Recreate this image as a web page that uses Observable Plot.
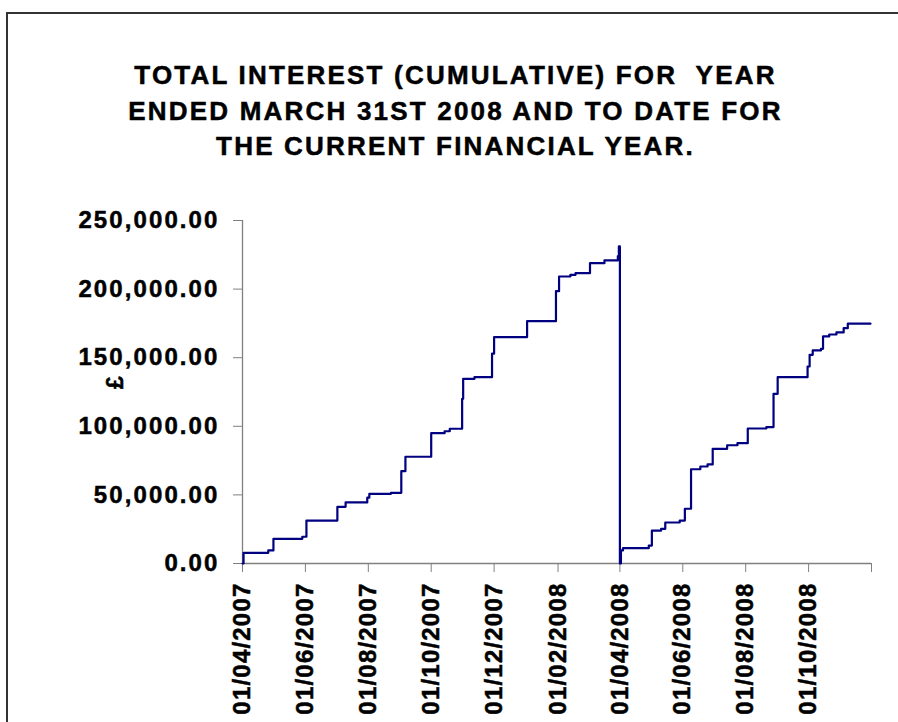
<!DOCTYPE html>
<html><head><meta charset="utf-8">
<script src="https://cdn.jsdelivr.net/npm/d3@7"></script>
<script src="https://cdn.jsdelivr.net/npm/@observablehq/plot@0.6"></script>
<style>
html,body{margin:0;padding:0;background:#fff;overflow:hidden;width:898px;height:722px}
#wrap{position:relative;width:898px;height:722px;overflow:hidden;font-family:"Liberation Sans",Arial,sans-serif}
#ftop{position:absolute;left:6px;top:12px;width:892px;height:2px;background:#333}
#fleft{position:absolute;left:6px;top:12px;width:2px;height:710px;background:#333}
#title{position:absolute;left:0;top:58px;width:911px;text-align:center;font-weight:bold;font-size:26px;line-height:35.5px;letter-spacing:2.2px;color:#000;white-space:pre;-webkit-text-stroke:0.5px #000}
#chart{position:absolute;left:0;top:170px}
#chart svg g[aria-label*="axis"] line, #chart svg g[aria-label*="axis"] path{stroke:#808080}
#chart svg g[aria-label*="axis"] text{stroke:#000;stroke-width:0.5px;paint-order:stroke}
#chart svg g[aria-label*="y-axis"] text{letter-spacing:2.1px}
#chart svg g[aria-label*="x-axis"] text{letter-spacing:1.2px}
</style></head><body>
<div id="wrap"><div id="ftop"></div><div id="fleft"></div><div id="title">TOTAL INTEREST (CUMULATIVE) FOR  YEAR
ENDED MARCH 31ST 2008 AND TO DATE FOR
THE CURRENT FINANCIAL YEAR.</div><div id="chart"></div></div>
<script>
// Year ended 31 March 2008 (cumulative interest, £) at dates where the total changes
const year1Dates = ["2007-04-01","2007-04-02","2007-04-26","2007-05-01","2007-05-29","2007-06-02","2007-07-02","2007-07-10","2007-07-31","2007-08-02","2007-08-23","2007-09-02","2007-09-06","2007-10-01","2007-10-14","2007-10-19","2007-10-31","2007-11-01","2007-11-12","2007-11-29","2007-12-01","2008-01-02","2008-01-30","2008-02-02","2008-02-13","2008-02-18","2008-03-03","2008-03-17","2008-03-30","2008-03-31"];
const year1Values = [0,7800,9500,18000,19500,31300,41300,44500,48000,50800,51500,67300,77800,95000,96400,98200,120000,134600,135800,152900,165000,176600,198500,209200,210400,211600,218900,220900,224000,231100];
// Current financial year to date
const year2Dates = ["2008-04-01","2008-04-02","2008-04-04","2008-04-29","2008-05-02","2008-05-11","2008-05-15","2008-05-29","2008-06-03","2008-06-09","2008-06-18","2008-06-25","2008-06-30","2008-07-14","2008-07-24","2008-08-03","2008-08-21","2008-08-28","2008-09-01","2008-09-30","2008-10-02","2008-10-05","2008-10-13","2008-10-15","2008-10-21","2008-10-28","2008-11-04","2008-11-08","2008-11-30"];
const year2Values = [0,9500,11200,13100,24000,25300,29900,31300,39900,68700,70700,72200,83600,86200,87700,98400,99400,123700,135800,143600,152100,155300,156500,165500,166900,168400,171500,174800,174800];
const xTickDates = ["2007-04-01","2007-06-01","2007-08-01","2007-10-01","2007-12-01","2008-02-01","2008-04-01","2008-06-01","2008-08-01","2008-10-01","2008-12-01"];
const xTickLabels = ["01/04/2007","01/06/2007","01/08/2007","01/10/2007","01/12/2007","01/02/2008","01/04/2008","01/06/2008","01/08/2008","01/10/2008",""];
const yTicks = [0,50000,100000,150000,200000,250000];

const parse = d3.utcParse("%Y-%m-%d");
const rows = [
  ...year1Dates.map((d,i)=>({date:parse(d), value:year1Values[i]})),
  ...year2Dates.map((d,i)=>({date:parse(d), value:year2Values[i]}))
];
const tickTimes = xTickDates.map(parse);
const labelOf = new Map(tickTimes.map((t,i)=>[+t, xTickLabels[i]]));

const chart = Plot.plot({
  width: 898, height: 552,
  marginLeft: 242, marginRight: 27, marginTop: 50, marginBottom: 159,
  style: {background:"transparent", fontFamily:"'Liberation Sans', Arial, sans-serif", fontWeight:"bold", fontSize:"24px", color:"#000"},
  x: {type:"utc", domain:[tickTimes[0], tickTimes[tickTimes.length-1]], ticks: tickTimes, tickFormat: d => labelOf.get(+d) ?? "", tickRotate:-90, tickSize:9, tickPadding:10, label:null},
  y: {domain:[0,250000], ticks:yTicks, tickFormat:d3.format(",.2f"), tickSize:9, tickPadding:14, label:null},
  marks: [
    Plot.ruleY([0], {stroke:"#808080", strokeWidth:1.3}),
    Plot.ruleX([tickTimes[0]], {stroke:"#808080", strokeWidth:1.3}),
    Plot.line(rows, {x:"date", y:"value", curve:"step-after", stroke:"#000080", strokeWidth:2.2}),
    Plot.text(["£"], {frameAnchor:"left", text:d=>d, rotate:-90, dx:-127, dy:-3, fontSize:23, fontWeight:"bold", fill:"#000", stroke:"#000", strokeWidth:0.5})
  ]
});
document.getElementById("chart").appendChild(chart);
</script>
</body></html>
